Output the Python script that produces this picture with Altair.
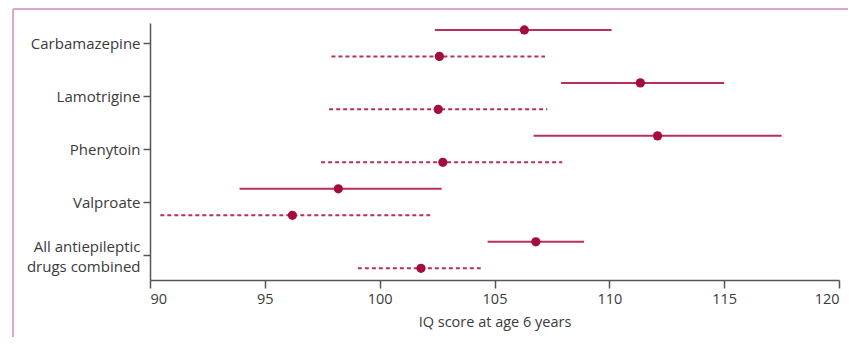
import json
import altair as alt
import pandas as pd

# ---- data ----
drugs = ["Carbamazepine", "Lamotrigine", "Phenytoin", "Valproate",
         "All antiepileptic drugs combined"]
drug_labels = ["Carbamazepine", "Lamotrigine", "Phenytoin", "Valproate",
               ["All antiepileptic", "drugs combined"]]

exposed_mean = [106.3, 111.35, 112.1, 98.2, 106.8]
exposed_lo = [102.4, 107.9, 106.7, 93.9, 104.7]
exposed_hi = [110.1, 115.0, 117.5, 102.7, 108.9]

unexposed_mean = [102.6, 102.55, 102.75, 96.2, 101.8]
unexposed_lo = [97.9, 97.8, 97.45, 90.45, 99.05]
unexposed_hi = [107.2, 107.3, 107.95, 102.2, 104.4]

x_ticks = [90, 95, 100, 105, 110, 115, 120]
group_offset = {"exposed": -0.25, "unexposed": 0.25}

rows = []
for i, d in enumerate(drugs):
    rows.append({"drug": d, "group": "exposed", "pos": i + group_offset["exposed"],
                 "mean": exposed_mean[i], "lo": exposed_lo[i], "hi": exposed_hi[i]})
    rows.append({"drug": d, "group": "unexposed", "pos": i + group_offset["unexposed"],
                 "mean": unexposed_mean[i], "lo": unexposed_lo[i], "hi": unexposed_hi[i]})
df = pd.DataFrame(rows)

FONT = "Open Sans"
LINE = "#b8305a"
DOT = "#a50c3e"

W, H = 689, 257

x_enc = alt.X("lo:Q", scale=alt.Scale(domain=[90, 120], nice=False, zero=False),
              axis=alt.Axis(values=x_ticks, title="IQ score at age 6 years",
                            grid=False, tickSize=8, labelPadding=4, titlePadding=10,
                            labelFontSize=14.5, titleFontSize=14.5))
y_enc = alt.Y("pos:Q", scale=alt.Scale(domain=[-0.38, 4.47], reverse=True, nice=False, zero=False),
              axis=alt.Axis(values=[0, 1, 2, 3, 4], title=None, grid=False, tickSize=7,
                            labelPadding=3, labelExpr=json.dumps(drug_labels) + "[datum.value]",
                            labelLineHeight=20, labelBaseline="middle", labelAlign="right",
                            labelFontSize=15,
                            labelOffset={"condition": {"test": "datum.value == 4", "value": -9},
                                         "value": 0}))

base = alt.Chart(df)

solid = base.transform_filter(alt.datum.group == "exposed").mark_rule(
    color=LINE, strokeWidth=2).encode(x=x_enc, x2="hi:Q", y=y_enc)
dashed = base.transform_filter(alt.datum.group == "unexposed").mark_rule(
    color=LINE, strokeWidth=2, strokeDash=[4, 3]).encode(x=x_enc, x2="hi:Q", y=y_enc)
dots = base.mark_circle(color=DOT, opacity=1, size=85).encode(
    x=alt.X("mean:Q"), y=alt.Y("pos:Q"))

# figure frame (decoration)
frame_top = alt.Chart(pd.DataFrame({"a": [0]})).mark_rule(color="#d9a9c6", strokeWidth=2).encode(
    x=alt.value(-137), x2=alt.value(700), y=alt.value(-14))
frame_left = alt.Chart(pd.DataFrame({"a": [0]})).mark_rule(color="#d9a9c6", strokeWidth=2).encode(
    x=alt.value(-137), y=alt.value(-14), y2=alt.value(320))

chart = alt.layer(frame_top, frame_left, solid, dashed, dots).properties(
    width=W, height=H,
    autosize=alt.AutoSizeParams(type="none"),
    padding={"left": 142, "top": 15, "right": 9, "bottom": 57},
).configure_view(stroke="transparent").configure_axis(
    domainColor="#555555", domainWidth=1.5, tickColor="#555555", tickWidth=1.5,
    labelFont=FONT, labelColor="#3a3a3a",
    titleFont=FONT, titleColor="#3a3a3a", titleFontWeight="normal",
)

chart.save("out.html", embed_options={"renderer": "svg", "actions": False})
